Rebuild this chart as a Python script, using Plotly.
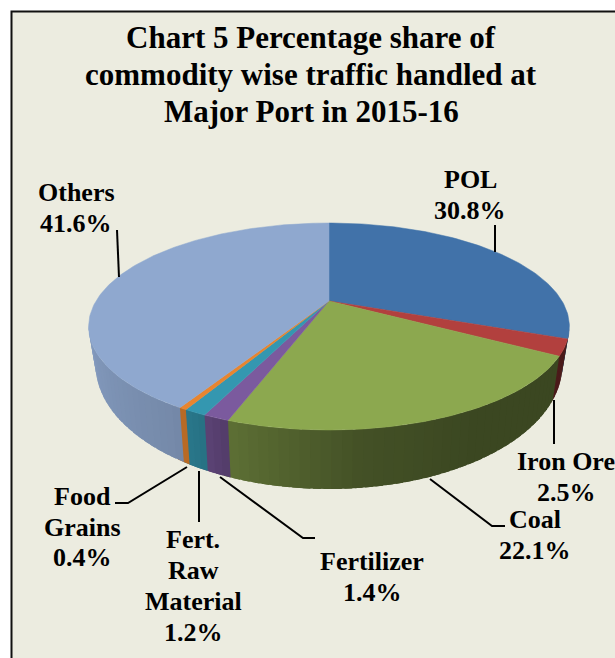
import numpy as np
import plotly.graph_objects as go

# ---- data ----
categories = ["POL", "Iron Ore", "Coal", "Fertilizer", "Fert. Raw Material", "Food Grains", "Others"]
values = [30.8, 2.5, 22.1, 1.4, 1.2, 0.4, 41.6]
label_names = ["POL", "Iron Ore", "Coal", "Fertilizer", "Fert.<br>Raw<br>Material", "Food<br>Grains", "Others"]

title_lines = ["Chart 5 Percentage share of", "commodity wise traffic handled at", "Major Port in 2015-16"]

# ---- style ----
top_colors = ["#4172A9", "#B2403E", "#8CA84F", "#7B5A9E", "#3497B0", "#E8852F", "#8FA8CF"]
BG = "#ECECE0"
FONT = "Liberation Serif"
label_pos = [(470, 195), (566, 477), (535, 535), (372, 577), (193, 586), (82, 527), (76, 208)]
LABEL_PITCH = 30.8
leaders = [
    [(495, 225), (495, 252)],
    [(554, 400), (554, 444)],
    [(430, 479), (492, 526), (505, 526)],
    [(220, 477), (303, 538), (315, 538)],
    [(199, 471), (199, 522)],
    [(187, 467), (128, 503), (115, 503)],
    [(117, 230), (119, 277)],
]

# perspective projection of the disc: top rim and bottom rim
CX = 329.0
TOP = dict(a=233.0, b=301.0, A=23.05, C=-0.2464)
BOT = dict(a=226.0, b=333.8, A=33.0, C=-0.25)


def project(theta_deg, ring):
    t = np.radians(theta_deg)
    u, v = -np.cos(t), np.sin(t)
    d = 1 + ring["C"] * u
    return CX + ring["a"] * v / d, (ring["b"] + ring["A"] * u) / d


def to_rgb(h):
    return np.array([int(h[i:i + 2], 16) for i in (1, 3, 5)], dtype=float)


def shade(color, theta):
    f = np.interp(theta, [100, 150, 174, 199, 205, 212, 258], [0.42, 0.42, 0.48, 0.66, 0.75, 0.82, 0.93])
    r, g, b = to_rgb(color) * f
    return f"rgb({r:.0f},{g:.0f},{b:.0f})"


vals = np.array(values, dtype=float)
edges = np.concatenate([[0], np.cumsum(vals)]) / vals.sum() * 360.0

fig = go.Figure()


def poly(xs, ys, color):
    fig.add_trace(go.Scatter(
        x=xs, y=ys, mode="lines", fill="toself", fillcolor=color,
        line=dict(width=0), hoverinfo="skip", showlegend=False))


# outer side wall, split in narrow strips for the shading; each strip overlaps the next one
VIS0, VIS1 = 105.0, 256.0
for i, col in enumerate(top_colors):
    s, e = max(edges[i], VIS0), min(edges[i + 1], VIS1)
    if e <= s:
        continue
    n = max(1, int(np.ceil((e - s) / 2.0)))
    bounds = np.linspace(s, e, n + 1)
    for t0, t1 in zip(bounds[:-1], bounds[1:]):
        th = np.linspace(t0, min(t1 + 1.5, VIS1), 6)
        xt, yt = project(th, TOP)
        xb, yb = project(th[::-1], BOT)
        poly(np.concatenate([xt, xb, xt[:1]]), np.concatenate([yt, yb, yt[:1]]), shade(col, (t0 + t1) / 2))

# top faces
for i, (name, col) in enumerate(zip(categories, top_colors)):
    th = np.linspace(edges[i], edges[i + 1], max(3, int(edges[i + 1] - edges[i]) + 2))
    xt, yt = project(th, TOP)
    fig.add_trace(go.Scatter(
        x=np.concatenate([[CX], xt, [CX]]), y=np.concatenate([[TOP["b"]], yt, [TOP["b"]]]),
        mode="lines", fill="toself", fillcolor=col, line=dict(color=col, width=0.5),
        name=name, text=f"{name}: {values[i]}%", hoverinfo="text", showlegend=False))

# leader lines
for pts in leaders:
    fig.add_trace(go.Scatter(
        x=[p[0] for p in pts], y=[p[1] for p in pts], mode="lines",
        line=dict(color="#000000", width=2), hoverinfo="skip", showlegend=False))

annotations = []
for name, v, (x, y) in zip(label_names, values, label_pos):
    lines = name.split("<br>") + [f"{v}%"]
    for k, line in enumerate(lines):
        yy = y + (k - (len(lines) - 1) / 2) * LABEL_PITCH
        annotations.append(dict(x=x, y=yy, xref="x", yref="y", text=f"<b>{line}</b>", showarrow=False,
                                xanchor="center", yanchor="middle",
                                font=dict(family=FONT, size=26, color="#000000")))
for line, y in zip(title_lines, [37, 74, 111]):
    annotations.append(dict(x=311, y=y, xref="x", yref="y", text=f"<b>{line}</b>", showarrow=False,
                            xanchor="center", yanchor="middle",
                            font=dict(family=FONT, size=31, color="#000000")))

fig.update_layout(
    width=615, height=658, margin=dict(l=0, r=0, t=0, b=0),
    paper_bgcolor="#FFFFFF", plot_bgcolor="#FFFFFF", showlegend=False,
    xaxis=dict(range=[0, 615], visible=False, fixedrange=True),
    yaxis=dict(range=[658, 0], visible=False, fixedrange=True),
    shapes=[dict(type="rect", xref="x", yref="y", x0=11.5, y0=11.5, x1=640, y1=680,
                 fillcolor=BG, line=dict(color="#111111", width=2), layer="below")],
    annotations=annotations,
)
fig.write_html("out.html", config={"displayModeBar": False},
               post_script="document.body.style.margin='0';document.documentElement.style.overflow='hidden';")
